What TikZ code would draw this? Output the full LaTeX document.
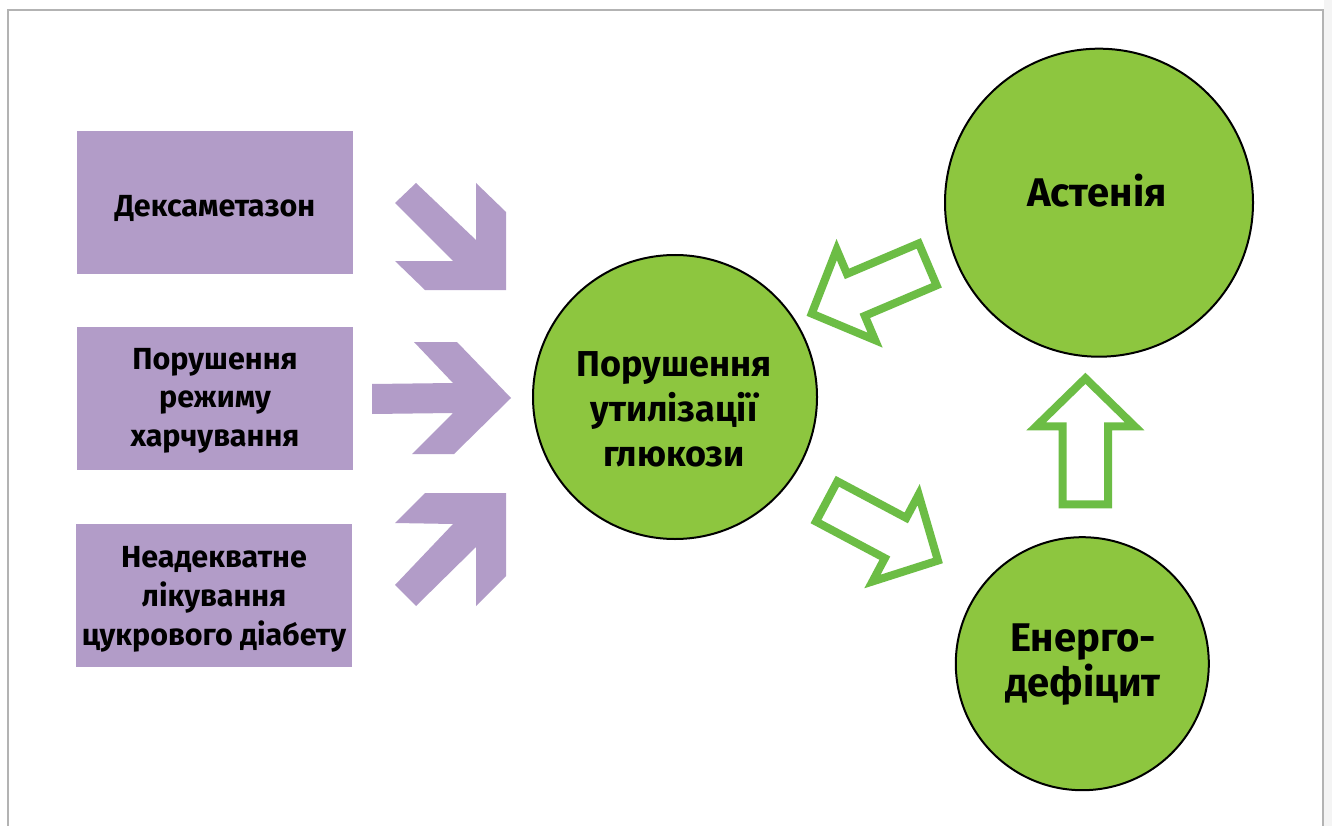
\documentclass[tikz,border=0pt]{standalone}
\usepackage{fontspec}
\setmainfont{Fira Sans}
\definecolor{purp}{HTML}{B29CC8}
\definecolor{gfill}{HTML}{8DC63F}
\definecolor{gline}{HTML}{6CBD45}
\definecolor{framegray}{HTML}{B3B3B3}
\definecolor{bandgray}{HTML}{F4F4F4}
\begin{document}
\begin{tikzpicture}[x=1pt,y=-1pt,
  causebox/.style={fill=purp, minimum width=276pt, minimum height=143pt, inner sep=0pt},
  bubble/.style={circle, draw=black, line width=2pt, fill=gfill, inner sep=0pt},
  boxtext/.style={align=center, inner sep=0pt, font=\bfseries\fontsize{30.5}{38.7}\selectfont},
  midtext/.style={align=center, inner sep=0pt, font=\bfseries\fontsize{36}{45}\selectfont},
  bigtext/.style={align=center, inner sep=0pt, font=\bfseries\fontsize{40}{45}\selectfont},
  garrow/.style={draw=gline, line width=8pt, fill=white, line join=miter},
  parrow/.style={fill=purp}]
\useasboundingbox (0,0) rectangle (1332,826);
\fill[white] (0,0) rectangle (1332,826);
\fill[bandgray] (1324,0) rectangle (1332,826);
\draw[framegray, line width=1.2pt] (8,826) -- (8,10) -- (1323,10) -- (1323,826);

% cause boxes
\node[causebox] (dex) at (215,202.5) {};
\node[causebox] (diet) at (215,398.5) {};
\node[causebox] (treat) at (214,595.3) {};
\node[boxtext, anchor=base] (dext) at (215,216.7) {Дексаметазон};
\node[boxtext] (dietT) at (215,400.8) {Порушення\\режиму\\харчування};
\node[boxtext] (treatT) at (214,599.2) {Неадекватне\\лікування\\цукрового діабету};

% purple arrows
\fill[parrow] (395,203) -- (416,183) -- (476,240) -- (476,183) -- (506,212) -- (506,290) -- (425,290) -- (395,261) -- (453,261) -- cycle;
\fill[parrow] (372,384) -- (453,383) -- (414,342) -- (457,342) -- (511,398) -- (454,454) -- (412,454) -- (453,413) -- (372,414) -- cycle;
\fill[parrow] (395,523) -- (425,493) -- (506,493) -- (506,576) -- (476,606) -- (476,547) -- (416,606) -- (395,585) -- (453,524) -- cycle;

% circles
\node[bubble, minimum size=284pt] (gluc) at (675,397) {};
\node[bubble, minimum size=308pt] (ast) at (1099,202.7) {};
\node[bubble, minimum size=253pt] (en) at (1082.3,663.7) {};
\node[midtext] (glucT) at (674,409.2) {Порушення\\утилізації\\глюкози};
\node[bigtext, anchor=base] (astT) at (1097,206.7) {Астенія};
\node[bigtext] (enT) at (1083,664.5) {Енерго-\\дефіцит};

% green outline arrows
\begin{scope}[shift={(869.7,289)}, rotate=203]
  \draw[garrow] (-63,-22.8) -- (15,-22.8) -- (15,-49.2) -- (63,0) -- (15,49.2) -- (15,22.8) -- (-63,22.8) -- cycle;
\end{scope}
\begin{scope}[shift={(882.3,531)}, rotate=-28]
  \draw[garrow] (-63,-22.8) -- (15,-22.8) -- (15,-49.2) -- (63,0) -- (15,49.2) -- (15,22.8) -- (-63,22.8) -- cycle;
\end{scope}
\begin{scope}[shift={(1085.4,441.3)}, rotate=90]
  \draw[garrow] (-63,-22.8) -- (15,-22.8) -- (15,-49.2) -- (63,0) -- (15,49.2) -- (15,22.8) -- (-63,22.8) -- cycle;
\end{scope}
\end{tikzpicture}
\end{document}
